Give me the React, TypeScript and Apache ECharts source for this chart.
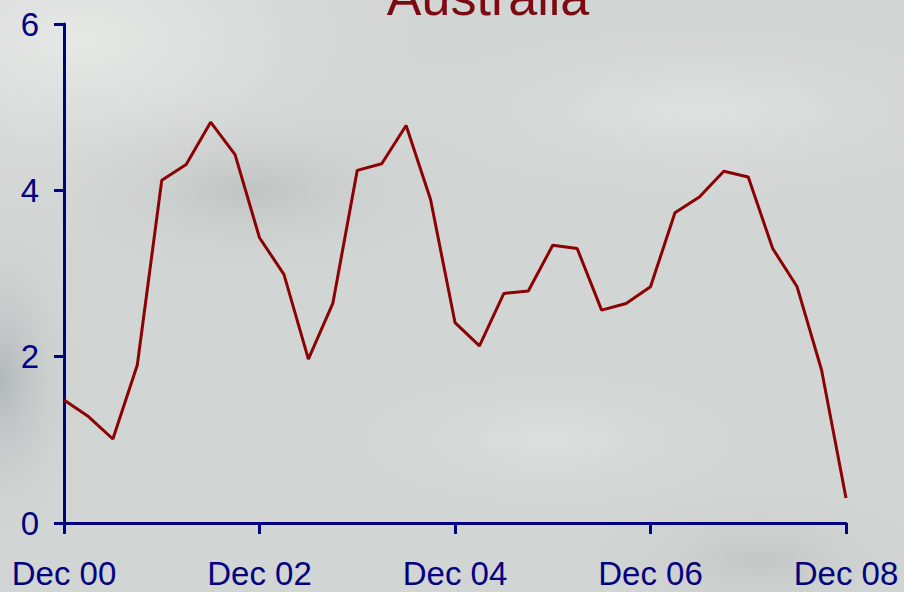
import React, { useEffect, useRef } from "react";
import * as echarts from "echarts";

const quarters: string[] = [
  "Dec 00", "Mar 01", "Jun 01", "Sep 01",
  "Dec 01", "Mar 02", "Jun 02", "Sep 02",
  "Dec 02", "Mar 03", "Jun 03", "Sep 03",
  "Dec 03", "Mar 04", "Jun 04", "Sep 04",
  "Dec 04", "Mar 05", "Jun 05", "Sep 05",
  "Dec 05", "Mar 06", "Jun 06", "Sep 06",
  "Dec 06", "Mar 07", "Jun 07", "Sep 07",
  "Dec 07", "Mar 08", "Jun 08", "Sep 08",
  "Dec 08",
];

const australia: number[] = [
  1.48, 1.28, 1.01, 1.9,
  4.12, 4.31, 4.82, 4.43,
  3.43, 2.99, 1.97, 2.64,
  4.24, 4.32, 4.78, 3.89,
  2.41, 2.13, 2.76, 2.79,
  3.34, 3.3, 2.56, 2.64,
  2.84, 3.73, 3.92, 4.23,
  4.16, 3.3, 2.84, 1.84,
  0.3,
];

const yTicks: number[] = [0, 2, 4, 6];

const AXIS = "#000080";
const LINE = "#8b0000";
const FONT = "'Liberation Sans', Arial, sans-serif";

export default function App() {
  const ref = useRef<HTMLDivElement>(null);

  useEffect(() => {
    document.body.style.margin = "0";
    if (!ref.current) return;
    const chart = echarts.init(ref.current, null, { renderer: "svg" });

    const radial = (color: string) => ({
      type: "radial",
      x: 0.5,
      y: 0.5,
      r: 0.5,
      colorStops: [
        { offset: 0, color },
        { offset: 1, color: "rgba(210,214,212,0)" },
      ],
    });

    chart.setOption({
      animation: false,
      backgroundColor: "#d1d5d3",
      graphic: [
        { type: "ellipse", silent: true, z: -20, shape: { cx: 80, cy: 40, rx: 420, ry: 220 }, style: { fill: radial("rgba(232,234,232,0.95)") } },
        { type: "ellipse", silent: true, z: -20, shape: { cx: 700, cy: 110, rx: 380, ry: 110 }, style: { fill: radial("rgba(224,227,225,0.9)") } },
        { type: "ellipse", silent: true, z: -20, shape: { cx: 250, cy: 190, rx: 230, ry: 95 }, style: { fill: radial("rgba(186,190,190,0.75)") } },
        { type: "ellipse", silent: true, z: -20, shape: { cx: 0, cy: 380, rx: 90, ry: 170 }, style: { fill: radial("rgba(176,181,184,0.95)") } },
        { type: "ellipse", silent: true, z: -20, shape: { cx: 550, cy: 440, rx: 260, ry: 90 }, style: { fill: radial("rgba(222,226,224,0.8)") } },
        { type: "ellipse", silent: true, z: -20, shape: { cx: 760, cy: 560, rx: 200, ry: 80 }, style: { fill: radial("rgba(190,194,194,0.75)") } },
        {
          type: "text",
          silent: true,
          x: 488,
          y: -3,
          style: {
            text: "Australia",
            fill: "#7d0a12",
            font: `52px ${FONT}`,
            align: "center",
            verticalAlign: "middle",
          },
        },
      ],
      grid: { left: 64, right: 58, top: 24, bottom: 69, containLabel: false },
      xAxis: {
        type: "category",
        data: quarters,
        boundaryGap: false,
        axisLine: { lineStyle: { color: AXIS, width: 3 } },
        axisTick: { show: true, interval: 7, length: 11, inside: false, lineStyle: { color: AXIS, width: 3 } },
        axisLabel: { interval: 7, color: AXIS, fontSize: 33, fontFamily: FONT, margin: 34, showMinLabel: true, showMaxLabel: true },
        splitLine: { show: false },
      },
      yAxis: {
        type: "value",
        min: yTicks[0],
        max: yTicks[yTicks.length - 1],
        interval: 2,
        axisLine: { show: true, lineStyle: { color: AXIS, width: 3 } },
        axisTick: { show: true, length: 10, lineStyle: { color: AXIS, width: 3 } },
        axisLabel: { color: AXIS, fontSize: 33, fontFamily: FONT, margin: 25 },
        splitLine: { show: false },
      },
      series: [
        {
          type: "line",
          data: australia,
          symbol: "none",
          lineStyle: { color: LINE, width: 3 },
          clip: false,
        },
      ],
    });

    return () => chart.dispose();
  }, []);

  return <div ref={ref} style={{ width: 904, height: 592 }} />;
}
